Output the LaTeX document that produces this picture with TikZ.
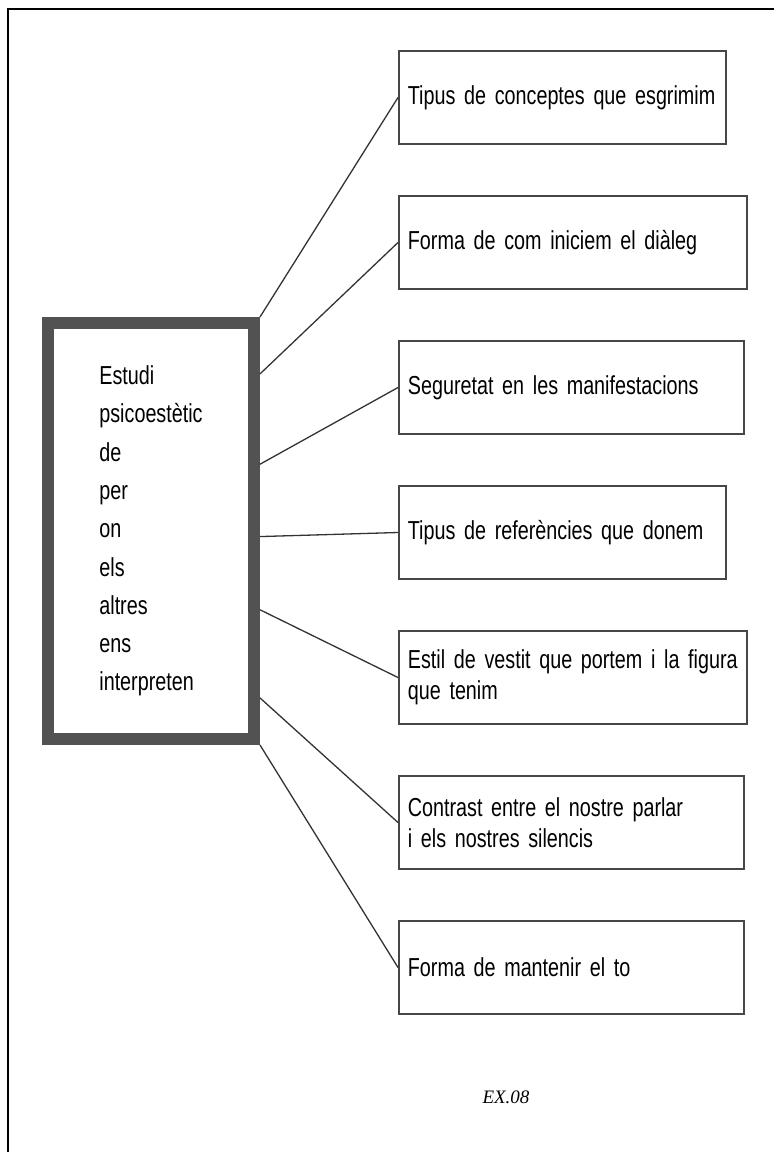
\documentclass[tikz,border=0pt]{standalone}
\usepackage{fontspec}
\setmainfont{Liberation Sans}[FakeStretch=0.76, WordSpace=0.8]
\newfontfamily\exfont{Liberation Serif}
\usetikzlibrary{positioning, calc}

\begin{document}
\begin{tikzpicture}[
  x=1pt, y=-1pt,
  font=\fontsize{26}{31}\selectfont,
  itembox/.style={draw=black!72, line width=1.8pt, align=left, inner xsep=9pt,
    minimum height=93.2pt, text width=#1},
  mainbox/.style={draw=black!68, line width=12pt, align=left,
    minimum width=206pt, minimum height=416pt, font=\fontsize{26}{38.3}\selectfont},
  link/.style={draw=black!80, line width=1.3pt},
  tag/.style={font=\exfont\itshape\fontsize{19}{22}\selectfont}
]
\useasboundingbox (0,0) rectangle (774,1152);
% frame of the page, cut at right and bottom
\draw[line width=2pt] (8,1152) -- (8,9) -- (774,9);

\node[mainbox] (est) at (151,531)
  {Estudi\\psicoestètic\\de\\per\\on\\els\\altres\\ens\\interpreten};

\node[itembox=309pt, anchor=north west] (b1) at (398,50) {Tipus de conceptes que esgrimim};
\node[itembox=330pt, below=50pt of b1.south west, anchor=north west] (b2) {Forma de com iniciem el diàleg};
\node[itembox=327pt, below=50pt of b2.south west, anchor=north west] (b3) {Seguretat en les manifestacions};
\node[itembox=309pt, below=50pt of b3.south west, anchor=north west] (b4) {Tipus de referències que donem};
\node[itembox=330pt, below=50pt of b4.south west, anchor=north west] (b5)
  {Estil de vestit que portem i la figura\\que tenim};
\node[itembox=327pt, below=50pt of b5.south west, anchor=north west] (b6)
  {Contrast entre el nostre parlar\\i els nostres silencis};
\node[itembox=327pt, below=50pt of b6.south west, anchor=north west] (b7) {Forma de mantenir el to};

\draw[link] (est.north east) -- (b1.west);
\draw[link] ($(est.north east)!0.133!(est.south east)$) -- (b2.west);
\draw[link] ($(est.north east)!0.344!(est.south east)$) -- (b3.west);
\draw[link] ($(est.north east)!0.513!(est.south east)$) -- (b4.west);
\draw[link] ($(est.north east)!0.684!(est.south east)$) -- (b5.west);
\draw[link] ($(est.north east)!0.890!(est.south east)$) -- (b6.west);
\draw[link] (est.south east) -- (b7.west);

\node[tag] (ex) at (506,1097) {EX.08};
\end{tikzpicture}
\end{document}
